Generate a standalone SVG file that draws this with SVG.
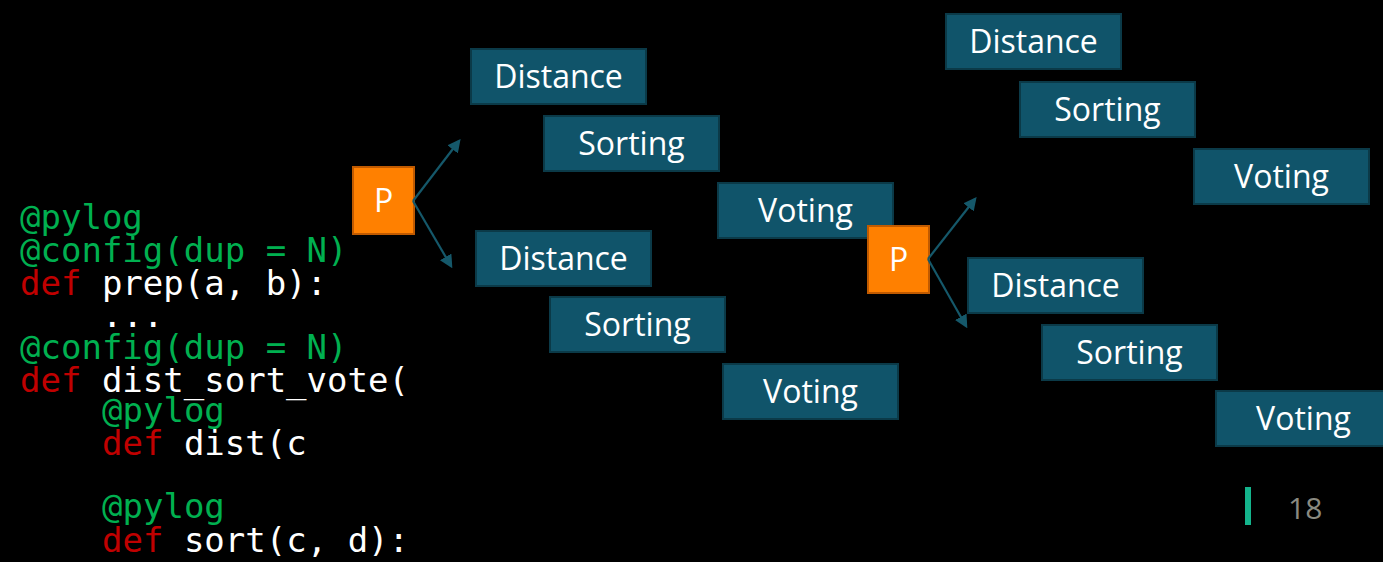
<svg xmlns="http://www.w3.org/2000/svg" width="1383" height="562" viewBox="0 0 1383 562">
  <defs>
    <style>
      .code { font-family: "DejaVu Sans Mono", "Liberation Mono", monospace; font-size: 34px; }
      .kw { fill: #c00000; }
      .dec { fill: #00b050; }
      .plain { fill: #ffffff; }
      .stage rect { fill: #10546a; stroke: #0b3a48; stroke-width: 2; }
      .stage text, .proc text { font-family: "Open Sans", "Liberation Sans", sans-serif; font-size: 32px; fill: #ffffff; text-anchor: middle; }
      .proc rect { fill: #ff8000; stroke: #c05a00; stroke-width: 2; }
      .edge { stroke: #15586a; stroke-width: 2.2; fill: none; marker-end: url(#arrow); }
      .pagenum { font-family: "Open Sans", "Liberation Sans", sans-serif; font-size: 30px; fill: #8a8a80; }
    </style>
    <marker id="arrow" viewBox="0 0 10 10" refX="8" refY="5" markerWidth="6" markerHeight="6" orient="auto" markerUnits="strokeWidth">
      <path d="M0,0 L10,5 L0,10 z" fill="#15586a"/>
    </marker>
  </defs>

  <rect x="0" y="0" width="1383" height="562" fill="#000000"/>

  <!-- source listing; indentation levels at 0, 4 and 8 columns -->
  <g id="code" class="code">
    <text x="20" y="229" class="dec">@pylog</text>
    <text x="20" y="262" class="dec">@config(dup = N)</text>
    <text x="20" y="295"><tspan class="kw">def</tspan><tspan class="plain"> prep(a, b):</tspan></text>
    <text x="102" y="327" class="plain">...</text>
    <text x="20" y="359" class="dec">@config(dup = N)</text>
    <text x="20" y="392"><tspan class="kw">def</tspan><tspan class="plain"> dist_sort_vote(</tspan></text>
    <text x="102" y="422" class="dec">@pylog</text>
    <text x="102" y="455"><tspan class="kw">def</tspan><tspan class="plain"> dist(c</tspan></text>
    <text x="102" y="518" class="dec">@pylog</text>
    <text x="102" y="552"><tspan class="kw">def</tspan><tspan class="plain"> sort(c, d):</tspan></text>
  </g>

  <!-- first pipeline copies -->
  <g id="distance-1" class="stage"><rect x="471" y="49" width="175" height="55"/><text x="558.5" y="88">Distance</text></g>
  <g id="sorting-1" class="stage"><rect x="544" y="116" width="175" height="55"/><text x="631.5" y="155">Sorting</text></g>
  <g id="voting-1" class="stage"><rect x="718" y="183" width="175" height="55"/><text x="805.5" y="222">Voting</text></g>
  <g id="distance-2" class="stage"><rect x="476" y="231" width="175" height="55"/><text x="563.5" y="270">Distance</text></g>
  <g id="sorting-2" class="stage"><rect x="550" y="297" width="175" height="55"/><text x="637.5" y="336">Sorting</text></g>
  <g id="voting-2" class="stage"><rect x="723" y="364" width="175" height="55"/><text x="810.5" y="403">Voting</text></g>

  <!-- second pipeline copies -->
  <g id="distance-3" class="stage"><rect x="946" y="14" width="175" height="55"/><text x="1033.5" y="53">Distance</text></g>
  <g id="sorting-3" class="stage"><rect x="1020" y="82" width="175" height="55"/><text x="1107.5" y="121">Sorting</text></g>
  <g id="voting-3" class="stage"><rect x="1194" y="149" width="175" height="55"/><text x="1281.5" y="188">Voting</text></g>
  <g id="distance-4" class="stage"><rect x="968" y="258" width="175" height="55"/><text x="1055.5" y="297">Distance</text></g>
  <g id="sorting-4" class="stage"><rect x="1042" y="325" width="175" height="55"/><text x="1129.5" y="364">Sorting</text></g>
  <g id="voting-4" class="stage"><rect x="1216" y="391" width="175" height="55"/><text x="1303.5" y="430">Voting</text></g>

  <!-- fork points -->
  <g id="p-1" class="proc"><rect x="353" y="167" width="61" height="67"/><text x="383.5" y="212">P</text></g>
  <g id="p-2" class="proc"><rect x="868" y="226" width="61" height="67"/><text x="898.5" y="271">P</text></g>

  <g id="connectors">
    <line class="edge" x1="413" y1="201" x2="459" y2="141"/>
    <line class="edge" x1="413" y1="201" x2="451" y2="266"/>
    <line class="edge" x1="928" y1="259" x2="975" y2="199"/>
    <line class="edge" x1="928" y1="259" x2="966" y2="326"/>
  </g>

  <!-- slide footer -->
  <rect x="1245" y="487" width="6" height="38" fill="#14b48c"/>
  <text class="pagenum" x="1288" y="519">18</text>
</svg>
